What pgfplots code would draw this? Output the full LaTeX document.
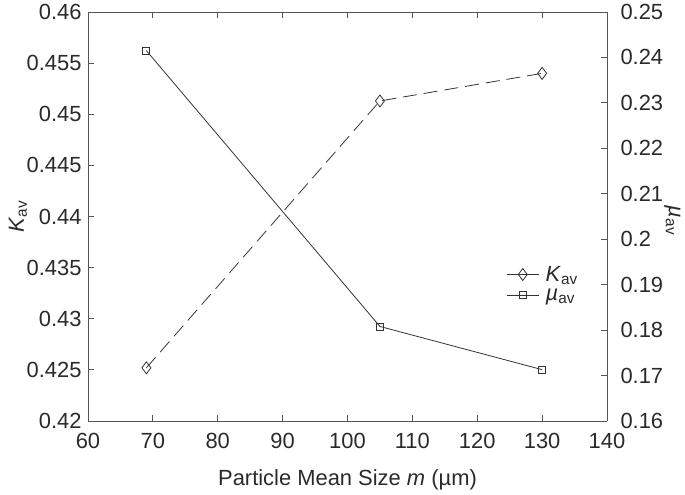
\documentclass[border=0pt]{standalone}
\usepackage{pgfplots}
\pgfplotsset{compat=1.18}
\usepackage{fontspec}
\setmainfont{Liberation Sans}
\definecolor{txt}{HTML}{2A2A2A}
\definecolor{axc}{HTML}{555555}
\definecolor{ln}{HTML}{333333}
\begin{document}
\begin{tikzpicture}
\pgfplotsset{
  common/.style={
    scale only axis, width=519bp, height=409bp,
    xmin=60, xmax=140, xtick={60,70,...,140},
    tick align=inside, major tick length=6bp,
    axis line style={axc, line width=0.8pt},
    every tick/.style={axc, line width=0.8pt},
    tick label style={font=\fontsize{22}{26}\selectfont, text=txt},
    label style={font=\fontsize{22}{26}\selectfont, text=txt},
    xticklabel style={yshift=-9bp},
    /pgf/number format/assume math mode=true,
    /pgf/number format/.cd, fixed, precision=3,
  }
}
\begin{axis}[common, name=ax,
  axis y line*=left, axis x line*=box,
  xtick pos=both,
  ymin=0.42, ymax=0.46, ytick={0.42,0.425,...,0.4601},
  yticklabel style={xshift=-3bp},
  xlabel={Particle Mean Size \textit{m} (µm)},
  ylabel={\textit{K}\textsubscript{av}},
  xlabel style={at={(axis description cs:0.5,-0.145)}, anchor=center},
  ylabel style={at={(axis description cs:-0.135,0.5)}, anchor=center, rotate=0},
]
\addplot[ln, line width=0.8pt, dash pattern=on 14bp off 7bp, mark=diamond, mark size=6bp, mark options={solid, fill=white}]
  coordinates {(69,0.4252) (105,0.4513) (130,0.4540)};
\end{axis}
\begin{axis}[common,
  axis y line*=right, axis x line=none,
  ymin=0.16, ymax=0.25, ytick={0.16,0.17,...,0.2501},
  yticklabel style={xshift=10bp},
  ylabel={\textit{µ}\textsubscript{av}},
  ylabel style={at={(axis description cs:1.126,0.49)}, anchor=center, rotate=180, inner sep=0pt},
  legend style={draw=none, fill=none, at={(0.80,0.385)}, anchor=north west,
    font=\fontsize{22}{22}\selectfont, text=txt, row sep=5bp,
    nodes={inner sep=0.5bp},
    /tikz/every odd column/.append style={column sep=6bp}},
  legend cell align=left,
  legend image code/.code={\draw[mark repeat=2,mark phase=2,#1] plot coordinates {(0bp,0bp) (16bp,0bp) (32bp,0bp)};},
]
\addlegendimage{ln, line width=0.8pt, mark=diamond, mark size=6bp, mark options={fill=white}}
\addlegendentry{\textit{K}\textsubscript{av}}
\addplot[ln, line width=0.8pt, mark=square, mark size=3.5bp, mark options={fill=white}]
  coordinates {(69,0.2415) (105,0.1808) (130,0.1713)};
\addlegendentry{\textit{µ}\textsubscript{av}}
\end{axis}
\path (ax.south west) ++(-88bp,-74bp) rectangle ++(685bp,495bp);
\end{tikzpicture}
\end{document}
